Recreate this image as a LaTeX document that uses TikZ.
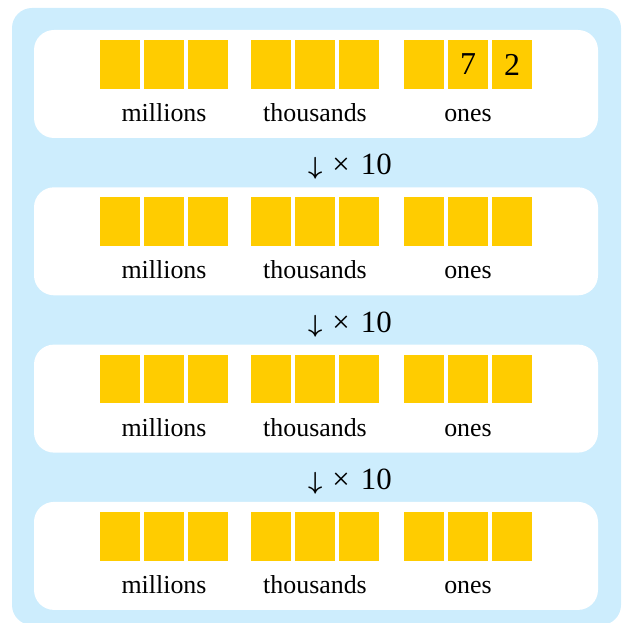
\documentclass[tikz,border=0pt]{standalone}
\usepackage{fontspec}
\setmainfont{Liberation Serif}
\definecolor{bgblue}{HTML}{CDEDFD}
\definecolor{cellyellow}{HTML}{FFCC00}
\begin{document}
\begin{tikzpicture}[x=1bp,y=-1bp,
  panel/.style={fill=white, rounded corners=20bp},
  cell/.style={fill=cellyellow, draw=none, minimum width=40bp, minimum height=48.5bp, inner sep=0pt, anchor=north west},
  digitlbl/.style={font=\fontsize{32}{32}\selectfont, inner sep=0pt},
  lbl/.style={font=\fontsize{26}{28}\selectfont, anchor=base, inner sep=0pt},
  times/.style={font=\fontsize{31}{32}\selectfont, inner sep=0pt, anchor=base}]
\useasboundingbox (0,0) rectangle (622,623);
\fill[bgblue, rounded corners=20bp] (12,8) rectangle (621,625);
\foreach \i in {0,1,2,3}{
  \pgfmathsetmacro{\t}{30+157.3*\i}
  \fill[panel] (34,\t) rectangle (598,\t+108);
  \foreach \g/\gx/\name in {0/100/millions,1/251/thousands,2/404/ones}{
    \foreach \k in {0,1,2}{
      \node[cell] (c\i-\g-\k) at (\gx+44*\k,\t+10) {};
    }
    \node[lbl] (l\i-\g) at (\gx+64,\t+91.5) {\name};
  }
}
\node[digitlbl] (d7) at (c0-2-1.center) {7};
\node[digitlbl] (d2) at (c0-2-2.center) {2};
\foreach \j in {0,1,2}{
  \pgfmathsetmacro{\m}{175+157.3*\j}
  \node[times] (a\j) at (350,\m) {{\fontsize{36}{36}\selectfont\boldmath$\downarrow$}\hspace{10bp}×\hspace{11bp}10};
}
\end{tikzpicture}
\end{document}
